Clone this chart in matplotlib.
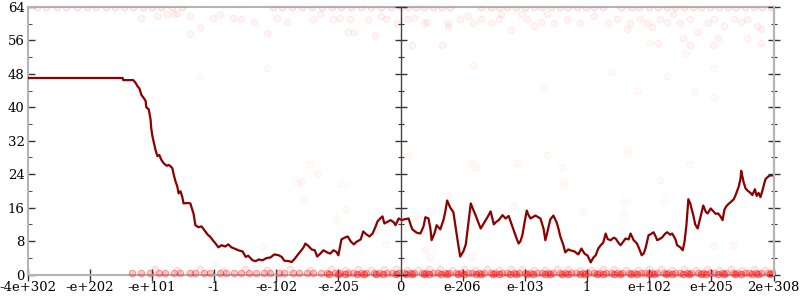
import numpy as np
import matplotlib
matplotlib.use("Agg")
import matplotlib.pyplot as plt

# ---- data -------------------------------------------------------------
tick_labels = ["-4e+302", "-e+202", "-e+101", "-1", "-e-102", "-e-205", "0",
               "e-206", "e-103", "1", "e+102", "e+205", "2e+308"]
tick_pos = list(range(len(tick_labels)))

line_x = [0.00, 1.53, 1.54, 1.70, 1.74, 1.77, 1.80, 1.83, 1.87, 1.90, 1.91, 1.95, 1.98, 1.99, 2.01, 2.04,
          2.06, 2.09, 2.12, 2.15, 2.19, 2.24, 2.27, 2.30, 2.33, 2.35, 2.38, 2.41, 2.43, 2.46, 2.49, 2.51,
          2.57, 2.62, 2.65, 2.67, 2.70, 2.75, 2.80, 2.85, 2.90, 2.94, 2.98, 3.02, 3.07, 3.12, 3.18, 3.23,
          3.28, 3.33, 3.39, 3.46, 3.51, 3.55, 3.62, 3.67, 3.72, 3.78, 3.84, 3.91, 3.97, 4.04, 4.09, 4.13,
          4.20, 4.25, 4.30, 4.34, 4.39, 4.44, 4.47, 4.52, 4.57, 4.62, 4.66, 4.71, 4.76, 4.83, 4.87, 4.92,
          4.97, 5.00, 5.05, 5.10, 5.15, 5.20, 5.25, 5.29, 5.36, 5.40, 5.45, 5.50, 5.55, 5.60, 5.63, 5.68,
          5.71, 5.74, 5.79, 5.84, 5.89, 5.92, 5.97, 6.02, 6.06, 6.13, 6.16, 6.19, 6.26, 6.32, 6.37, 6.40,
          6.45, 6.48, 6.50, 6.55, 6.58, 6.64, 6.69, 6.72, 6.75, 6.80, 6.85, 6.90, 6.93, 6.96, 7.01, 7.05,
          7.09, 7.13, 7.17, 7.21, 7.25, 7.29, 7.33, 7.37, 7.41, 7.45, 7.50, 7.54, 7.58, 7.64, 7.69, 7.74,
          7.77, 7.82, 7.87, 7.90, 7.93, 7.96, 7.99, 8.03, 8.06, 8.09, 8.17, 8.25, 8.30, 8.33, 8.36, 8.41,
          8.46, 8.51, 8.54, 8.57, 8.62, 8.65, 8.70, 8.73, 8.80, 8.86, 8.91, 8.96, 9.01, 9.06, 9.10, 9.14,
          9.18, 9.22, 9.26, 9.30, 9.33, 9.38, 9.43, 9.46, 9.51, 9.54, 9.59, 9.62, 9.67, 9.70, 9.75, 9.80,
          9.83, 9.88, 9.91, 9.94, 9.99, 10.02, 10.07, 10.10, 10.13, 10.18, 10.21, 10.26, 10.29, 10.34, 10.37, 10.42,
          10.45, 10.50, 10.54, 10.57, 10.60, 10.63, 10.66, 10.71, 10.74, 10.78, 10.83, 10.87, 10.91, 10.94, 10.99, 11.02,
          11.07, 11.11, 11.15, 11.18, 11.21, 11.24, 11.27, 11.31, 11.36, 11.39, 11.44, 11.47, 11.48, 11.52, 11.55, 11.58,
          11.63, 11.66, 11.70, 11.73, 11.76, 11.79, 11.82, 11.87, 11.92, 11.95, 12.00]
line_y = [47, 47, 46.5, 46.5, 45.8, 45, 44.5, 43, 42.2, 41.5, 40, 39.5, 37, 35, 33, 31,
          29.7, 28.3, 28.6, 27.5, 26.6, 26, 26.2, 25.9, 25.4, 24, 22.3, 21, 19.4, 19.9, 18.5, 17,
          17.1, 17, 15.5, 14.6, 11.8, 11.3, 11.5, 10.5, 9.5, 9, 8.2, 7.5, 6.5, 7, 6.7, 7.2,
          6.5, 6.2, 5.8, 5.5, 4.2, 4.5, 3.4, 3.2, 3.6, 3.4, 3.9, 4.1, 4.8, 4.6, 4.2, 3.3,
          3.2, 3.0, 3.8, 4.6, 5.5, 6.5, 7.4, 6.8, 6, 5.8, 4.3, 5, 5.8, 5.2, 5, 5.8,
          5.4, 4.6, 8.4, 8.8, 9.1, 7.9, 7.2, 7.8, 8.4, 10.3, 9.6, 9.1, 9.8, 11.5, 12.7, 13.5,
          13.9, 12.2, 12.6, 13, 12.5, 11.8, 13.4, 13, 13.2, 13.4, 12, 10.8, 10, 9.8, 11.5, 13.7,
          13.4, 11, 8.2, 10, 11.8, 10.8, 13, 15, 17.7, 16, 14.9, 10, 7, 4.3, 5.5, 7.2,
          12, 17, 15.5, 14.1, 12.5, 11, 12, 13, 14, 15.1, 12, 12.6, 13, 14.2, 13.4, 14,
          12.7, 10.6, 8.5, 7.4, 8, 9.4, 12, 15.3, 14.2, 13.4, 14.1, 13.4, 11, 8.2, 10, 13.2,
          14.1, 12.5, 11, 9.1, 7, 5.3, 6, 5.8, 5.5, 4.8, 6.2, 5, 4.5, 2.9, 4, 4.6,
          6.2, 7, 7.6, 9.8, 8.5, 8.2, 8.8, 8.6, 7.5, 7, 8, 8.6, 8.4, 9.8, 8.2, 7.5,
          6.5, 4.6, 5, 6.2, 9.4, 9.6, 10.1, 9.2, 8.2, 8.6, 8.9, 9.8, 10.1, 9.5, 9.8, 8.5,
          7, 6.5, 5.8, 8, 12, 18, 17, 14.1, 12, 11, 14.1, 16.5, 15, 14.6, 15.8, 15.3,
          14.5, 14.6, 13.8, 13, 15.5, 16.3, 16.8, 17.3, 18, 19, 21, 23, 24.8, 22, 20.6, 20.1,
          19.5, 19, 20.4, 18.8, 19.5, 18.5, 20, 22.8, 23.5, 23.7, 23.7]

# faint sample points: bottom band
bottom_x = [1.68, 1.83, 1.97, 2.12, 2.21, 2.36, 2.46, 2.61, 2.70, 2.84, 2.94, 3.09, 3.19, 3.32, 3.43, 3.56,
            3.67, 3.81, 3.90, 4.04, 4.13, 4.27, 4.36, 4.50, 4.59, 4.72, 4.81, 4.94, 5.02, 5.15, 5.23, 5.36,
            5.44, 5.57, 5.65, 5.78, 5.86, 5.96, 6.05, 6.15, 6.22, 6.34, 6.41, 6.52, 6.60, 6.71, 6.78, 6.89,
            6.97, 7.08, 7.15, 7.27, 7.34, 7.45, 7.52, 7.64, 7.71, 7.82, 7.90, 8.01, 8.08, 8.19, 8.27, 8.38,
            8.45, 8.57, 8.64, 8.75, 8.82, 8.94, 9.01, 9.12, 9.20, 9.31, 9.38, 9.49, 9.57, 9.68, 9.75, 9.87,
            9.94, 10.05, 10.12, 10.24, 10.31, 10.42, 10.50, 10.61, 10.68, 10.79, 10.87, 10.98, 11.05, 11.17, 11.24, 11.35,
            11.42, 11.54, 11.61, 11.72, 11.80, 11.91, 11.97]
bottom_y = [0.4] * len(bottom_x)
core_x = [4.85, 4.99, 5.10, 5.30, 5.41, 5.61, 5.72, 5.92, 6.09, 6.19, 6.37, 6.46, 6.65, 6.74, 6.93, 7.02,
          7.21, 7.30, 7.49, 7.58, 7.76, 7.86, 8.04, 8.13, 8.32, 8.41, 8.60, 8.69, 8.88, 8.97, 9.16, 9.25,
          9.44, 9.53, 9.71, 9.81, 9.99, 10.08, 10.27, 10.36, 10.55, 10.64, 10.83, 10.92, 11.10, 11.20, 11.38,
          11.48, 11.66, 11.75, 11.94]
core_y = [0.2] * len(core_x)
halo_x = [2.05, 2.40, 2.78, 3.15, 3.50, 3.86, 4.22, 4.55, 4.88, 5.10, 5.31, 5.52, 5.73, 5.93, 6.10, 6.28,
          6.46, 6.64, 6.83, 7.02, 7.20, 7.39, 7.58, 7.77, 7.95, 8.14, 8.33, 8.51, 8.70, 8.88, 9.07, 9.26,
          9.44, 9.63, 9.82, 10.00, 10.19, 10.37, 10.56, 10.75, 10.93, 11.12, 11.31, 11.49, 11.68, 11.86]
halo_y = [1.2, 1.0, 1.3, 0.9, 1.2, 1.1, 1.3, 1.0, 1.2, 1.1, 1.3, 1.0, 1.2, 1.3, 1.1, 1.0,
          1.3, 1.2, 1.0, 1.3, 1.1, 1.2, 1.0, 1.3, 1.2, 1.1, 1.0, 1.3, 1.2, 1.1, 1.0, 1.3,
          1.2, 1.0, 1.1, 1.3, 1.2, 1.0, 1.3, 1.1, 1.2, 1.0, 1.3, 1.1, 1.2, 1.0]

# top band
top_x = [0.15, 0.30, 0.48, 0.62, 0.80, 0.95, 1.10, 1.26, 1.40, 1.55, 1.70, 1.86, 2.00, 2.15, 2.32, 2.48,
         3.95, 4.10, 4.26, 4.42, 4.58, 4.74, 4.90, 5.05, 5.20, 5.36, 5.52, 5.68, 5.84, 6.00, 6.12, 6.25,
         6.38, 6.52, 6.66, 6.80, 7.30, 7.45, 7.58, 7.72, 7.86, 8.00, 8.14, 8.28, 8.42, 8.56, 8.70, 8.84,
         8.98, 9.12, 9.26, 9.55, 9.70, 9.84, 10.00, 10.14, 10.28, 10.42, 10.56, 10.70, 10.84, 10.98, 11.12,
         11.26, 11.40, 11.54, 11.68, 11.82, 11.96]
top_y = [64] * len(top_x)

cluster_x = [1.82, 2.09, 2.25, 2.35, 2.41, 2.62, 2.78, 2.99, 3.10, 3.31, 3.43, 3.64, 3.86, 4.02, 4.18,
             4.60, 4.71, 4.92, 5.02, 5.19, 5.47, 5.59, 5.69, 5.25, 5.15, 2.62,
             5.76, 5.95, 6.11, 6.22, 6.37, 6.43, 6.76, 6.77, 6.96, 7.08, 7.17, 7.29, 7.45, 7.58, 7.61, 7.78,
             7.94, 8.04, 8.15, 8.26, 8.36, 8.47, 8.68, 6.19, 6.67, 8.88, 9.11, 9.33, 9.49, 9.65, 9.69,
             9.86, 9.97, 10.05, 10.18, 10.29, 10.39, 10.50, 10.66, 10.78, 10.95, 11.05, 11.21, 11.37,
             11.48, 11.58, 11.74, 11.80, 10.14, 10.55, 10.66, 11.02, 11.10, 11.58, 11.80]
cluster_y = [61.4, 61.9, 62.3, 62.3, 62.6, 61.9, 59.2, 61.4, 62.3, 61.4, 61.1, 60.5, 57.8, 61.4, 60.5,
             61.1, 62.3, 61.1, 61.4, 61.1, 61.1, 57.2, 61.9, 58.1, 58.1, 57.6,
             61.1, 60.2, 61.1, 61.4, 60.2, 60.5, 60.2, 59.2, 61.1, 61.9, 60.2, 61.1, 60.2, 61.1, 62.3, 58.5,
             62.3, 61.1, 59.5, 60.5, 62.3, 60.2, 61.1, 54.9, 54.9, 60.2, 61.9, 60.2, 61.1, 58.8, 60.2,
             61.1, 60.2, 59.2, 61.1, 60.5, 62.3, 60.2, 61.1, 58.0, 60.2, 61.1, 59.5, 61.1,
             60.5, 61.1, 59.5, 58.8, 55.4, 56.6, 54.9, 54.9, 56.6, 56.6, 55.4]

# sparse points elsewhere
sparse_x = [2.77, 3.86, 4.53, 4.40, 4.35, 4.68, 4.43, 5.04, 5.12, 4.96, 5.62, 5.76, 3.00, 3.78, 6.13,
            7.13, 7.21, 7.88, 8.35, 8.60, 8.62, 6.26, 6.47, 6.76, 8.93, 7.83, 6.47, 7.13, 6.40, 9.65,
            10.65, 10.18, 9.60, 9.58, 10.24, 11.05, 11.35, 7.16, 8.29, 10.01, 9.38, 10.29, 11.05, 9.81,
            10.72, 11.05, 10.58]
sparse_y = [47.2, 49.5, 26.4, 22.3, 21.8, 24.2, 18.0, 21.6, 15.6, 13.0, 10.8, 7.2, 2.6, 6.7, 28.5,
            26.6, 25.4, 26.6, 28.5, 25.7, 21.8, 13.7, 15.3, 19.0, 14.9, 16.5, 4.3, 4.1, 5.8, 29.5,
            26.4, 22.5, 17.3, 14.6, 17.3, 6.7, 7.0, 50.1, 44.8, 55.4, 48.4, 47.5, 49.4, 44.0,
            44.0, 42.5, 53.0]

# ---- figure -----------------------------------------------------------
serif = ["DejaVu Serif"]
plt.rcParams["font.family"] = serif
fig = plt.figure(figsize=(8, 3), dpi=100)
ax = fig.add_axes([0.0344, 0.085, 0.9325, 0.892])

for xs, ys, fa, ea, clip, z in [(bottom_x, bottom_y, 0.22, 0.40, False, 2.6),
                                (core_x, core_y, 0.35, 0.55, False, 2.6),
                                (halo_x, halo_y, 0.08, 0.16, False, 2.6),
                                (top_x, top_y, 0.06, 0.16, True, 2.6),
                                (cluster_x, cluster_y, 0.04, 0.08, True, 1),
                                (sparse_x, sparse_y, 0.025, 0.05, True, 1)]:
    ax.scatter(xs, ys, s=22, marker="o", facecolors=[(1, 0, 0, fa)],
               edgecolors=[(1, 0.1, 0.1, ea)], linewidths=0.7, zorder=z, clip_on=clip)

ax.plot(line_x, line_y, color="#8b0000", linewidth=1.6, zorder=3)

ax.set_xlim(0, 12)
ax.set_ylim(0, 64)
ax.set_xticks(tick_pos)
ax.set_xticklabels(tick_labels)
ax.set_yticks(range(0, 65, 8))
ax.set_yticks(range(4, 64, 8), minor=True)

spine_col = "#b4b4b4"
for s in ax.spines.values():
    s.set_color(spine_col)
    s.set_linewidth(1.5)

ax.tick_params(axis="y", which="major", direction="in", length=5, width=1, color="#333333",
               labelsize=9.5, pad=2)
ax.tick_params(axis="y", which="minor", direction="in", length=3, width=0.8, color="#555555")
ax.tick_params(axis="x", which="major", direction="inout", length=8, width=1, color="#333333",
               labelsize=9.5, pad=1)

# central axis at 0 and right spine ticks
ax2 = ax.twinx()
ax2.set_ylim(0, 64)
ax2.set_yticks(range(0, 65, 8))
ax2.set_yticks(range(4, 64, 8), minor=True)
ax2.spines["left"].set_position(("data", 6))
ax2.spines["left"].set_color("#444444")
ax2.spines["left"].set_linewidth(1.0)
ax2.spines["right"].set_color(spine_col)
ax2.spines["right"].set_linewidth(1.5)
ax2.spines["top"].set_visible(False)
ax2.spines["bottom"].set_visible(False)
ax2.tick_params(axis="y", which="both", left=True, right=True, labelleft=False, labelright=False,
                direction="inout", color="#333333")
ax2.tick_params(axis="y", which="major", length=8, width=1)
ax2.tick_params(axis="y", which="minor", length=4.5, width=0.8)

fig.savefig("out.png", dpi=100)
